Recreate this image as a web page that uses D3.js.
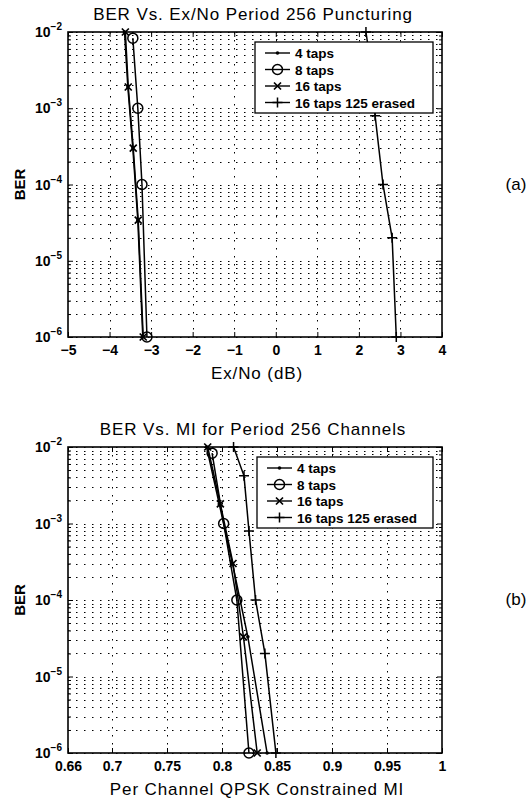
<!DOCTYPE html>
<html>
<head>
<meta charset="utf-8">
<script src="https://cdn.jsdelivr.net/npm/d3@7"></script>
<style>
  body { margin: 0; background: #fff; }
  text { font-family: "Liberation Sans", Arial, sans-serif; fill: #000; }
</style>
</head>
<body>
<script>
// ---- data ----
const seriesNames = ["4 taps", "8 taps", "16 taps", "16 taps 125 erased"];
const berTicks = [1e-6, 1e-5, 1e-4, 1e-3, 1e-2];

// (a) BER vs Ex/No (dB)
const exnoTicks = [-5, -4, -3, -2, -1, 0, 1, 2, 3, 4];
const exno4Taps = [[-3.64, 1e-2], [-3.56, 1.9e-3], [-3.44, 3e-4], [-3.32, 3.4e-5], [-3.2, 1e-6]];
const exno8Taps = [[-3.44, 8.3e-3], [-3.32, 1e-3], [-3.22, 1e-4], [-3.1, 1e-6]];
const exno16Taps = [[-3.62, 1e-2], [-3.55, 1.9e-3], [-3.43, 3e-4], [-3.31, 3.4e-5], [-3.19, 1e-6]];
const exnoErased = [[2.17, 1e-2], [2.27, 4.2e-3], [2.39, 8e-4], [2.58, 1e-4], [2.8, 2e-5], [2.9, 1e-6]];

// (b) BER vs per channel QPSK constrained MI
const miTicks = [0.66, 0.7, 0.75, 0.8, 0.85, 0.9, 0.95, 1];
const mi4Taps = [[0.786, 1e-2], [0.7975, 1.8e-3], [0.8095, 3e-4], [0.8235, 3.3e-5], [0.841, 1e-6]];
const mi8Taps = [[0.791, 8.3e-3], [0.8015, 1e-3], [0.8135, 1e-4], [0.8245, 1e-6]];
const mi16Taps = [[0.787, 1e-2], [0.7985, 1.8e-3], [0.81, 3e-4], [0.8195, 3.3e-5], [0.832, 1e-6]];
const miErased = [[0.8105, 1e-2], [0.82, 4.2e-3], [0.8245, 8e-4], [0.8305, 1e-4], [0.839, 2e-5], [0.849, 1e-6]];

const svg = d3.select("body").append("svg")
  .attr("width", 531)
  .attr("height", 800);

const panels = [
  {
    id: "a", top: 32, bottom: 337, left: 68, right: 442,
    xDomain: [-5, 4], xTicks: exnoTicks, xGrid: exnoTicks.slice(1, -1),
    xFormat: d3.format("d"),
    title: "BER Vs. Ex/No  Period 256 Puncturing", xLabel: "Ex/No (dB)",
    series: [exno4Taps, exno8Taps, exno16Taps, exnoErased],
    legend: { x: 255, y: 42, w: 178, h: 71 }
  },
  {
    id: "b", top: 447, bottom: 753, left: 68, right: 442,
    xDomain: [0.66, 1], xTicks: miTicks, xGrid: miTicks.slice(1, -1),
    xFormat: d => String(d),
    title: "BER Vs. MI  for Period 256 Channels", xLabel: "Per Channel QPSK Constrained MI",
    series: [mi4Taps, mi8Taps, mi16Taps, miErased],
    legend: { x: 257, y: 457, w: 176, h: 71 }
  }
];

// marker shapes, one per series
function drawMarker(g, kind, cx, cy) {
  if (kind === 0) {
    g.append("circle").attr("cx", cx).attr("cy", cy).attr("r", 1.8).attr("fill", "#000");
  } else if (kind === 1) {
    g.append("circle").attr("cx", cx).attr("cy", cy).attr("r", 5)
      .attr("fill", "none").attr("stroke", "#000").attr("stroke-width", 1.5);
  } else if (kind === 2) {
    const s = 3.5;
    g.append("path")
      .attr("d", `M${cx-s},${cy-s}L${cx+s},${cy+s}M${cx-s},${cy+s}L${cx+s},${cy-s}`)
      .attr("stroke", "#000").attr("stroke-width", 1.7);
  } else {
    const s = 5;
    g.append("path")
      .attr("d", `M${cx-s},${cy}L${cx+s},${cy}M${cx},${cy-s}L${cx},${cy+s}`)
      .attr("stroke", "#000").attr("stroke-width", 1.5);
  }
}

panels.forEach(p => {
  const x = d3.scaleLinear().domain(p.xDomain).range([p.left, p.right]);
  const y = d3.scaleLog().domain([1e-6, 1e-2]).range([p.bottom, p.top]);
  const g = svg.append("g");

  // grid: decades and log minors, dotted
  const minors = [];
  for (let e = -6; e < -2; e++) {
    for (let k = 1; k <= 9; k++) minors.push(k * Math.pow(10, e));
  }
  minors.push(1e-2);
  g.selectAll(".hgrid").data(minors).enter().append("line")
    .attr("x1", p.left).attr("x2", p.right)
    .attr("y1", d => Math.round(y(d)) + 0.5).attr("y2", d => Math.round(y(d)) + 0.5)
    .attr("stroke", "#000").attr("stroke-width", 1)
    .attr("stroke-dasharray", "1.5,6.5");
  g.selectAll(".vgrid").data(p.xGrid).enter().append("line")
    .attr("x1", d => Math.round(x(d)) + 0.5).attr("x2", d => Math.round(x(d)) + 0.5)
    .attr("y1", p.top).attr("y2", p.bottom)
    .attr("stroke", "#000").attr("stroke-width", 1)
    .attr("stroke-dasharray", "1.5,6.5");

  // clip for curves
  svg.append("clipPath").attr("id", "clip-" + p.id)
    .append("rect").attr("x", p.left).attr("y", p.top)
    .attr("width", p.right - p.left).attr("height", p.bottom - p.top);

  const plot = g.append("g").attr("clip-path", `url(#clip-${p.id})`);
  const line = d3.line().x(d => x(d[0])).y(d => y(d[1]));
  p.series.forEach((s, i) => {
    plot.append("path").datum(s).attr("d", line)
      .attr("fill", "none").attr("stroke", "#000").attr("stroke-width", 1.5);
  });
  p.series.forEach((s, i) => {
    s.forEach(d => drawMarker(g, i, x(d[0]), y(d[1])));
  });

  // axes: ticks point inward
  g.append("g").attr("transform", `translate(0,${p.bottom})`)
    .call(d3.axisBottom(x).tickValues(p.xTicks).tickFormat(p.xFormat)
      .tickSizeInner(-5).tickSizeOuter(0).tickPadding(8))
    .call(a => a.select(".domain").remove())
    .selectAll("text").attr("font-size", 14).attr("font-weight", "bold")
    .attr("font-family", "Liberation Sans, Arial, sans-serif");
  g.append("g").attr("transform", `translate(0,${p.top})`)
    .call(d3.axisTop(x).tickValues(p.xTicks).tickFormat("").tickSizeInner(-5).tickSizeOuter(0))
    .call(a => a.select(".domain").remove());
  g.append("g").attr("transform", `translate(${p.right},0)`)
    .call(d3.axisRight(y).tickValues(minors).tickFormat("")
      .tickSize(0))
    .call(a => a.select(".domain").remove())
    .selectAll(".tick line").attr("x2", d => berTicks.includes(d) ? -5 : -3);
  const yAxis = g.append("g").attr("transform", `translate(${p.left},0)`)
    .call(d3.axisLeft(y).tickValues(minors).tickFormat("").tickSize(0))
    .call(a => a.select(".domain").remove());
  yAxis.selectAll(".tick line").attr("x2", d => berTicks.includes(d) ? 5 : 3);

  // decade labels as 10 with superscript exponent
  g.selectAll(".ylab").data(berTicks).enter().append("text")
    .attr("x", p.left - 6).attr("y", d => y(d) + 5)
    .attr("text-anchor", "end").attr("font-size", 14).attr("font-weight", "bold")
    .each(function(d) {
      const t = d3.select(this);
      t.append("tspan").text("10");
      t.append("tspan").attr("dy", -7).attr("font-size", 10)
        .text("\u2212" + Math.round(-Math.log10(d)));
    });

  // frame
  g.append("rect").attr("x", p.left).attr("y", p.top)
    .attr("width", p.right - p.left).attr("height", p.bottom - p.top)
    .attr("fill", "none").attr("stroke", "#000").attr("stroke-width", 1.6);

  // legend
  const L = p.legend;
  const lg = g.append("g");
  lg.append("rect").attr("x", L.x).attr("y", L.y).attr("width", L.w).attr("height", L.h)
    .attr("fill", "#fff").attr("stroke", "#000").attr("stroke-width", 1.3);
  seriesNames.forEach((name, i) => {
    const ry = L.y + 11 + i * 16.5;
    lg.append("line").attr("x1", L.x + 10).attr("x2", L.x + 35)
      .attr("y1", ry).attr("y2", ry).attr("stroke", "#000").attr("stroke-width", 1.4);
    drawMarker(lg, i, L.x + 22.5, ry);
    lg.append("text").attr("x", L.x + 40).attr("y", ry + 5)
      .attr("font-size", 13.5).attr("font-weight", "bold").text(name);
  });

  // titles and labels
  g.append("text").attr("x", (p.left + p.right) / 2 - 2).attr("y", p.top - 12)
    .attr("text-anchor", "middle").attr("font-size", 17)
    .attr("letter-spacing", 0.9).text(p.title);
  g.append("text").attr("x", (p.left + p.right) / 2 + 2).attr("y", p.bottom + 42)
    .attr("text-anchor", "middle").attr("font-size", 17)
    .attr("letter-spacing", 0.9).text(p.xLabel);
  g.append("text")
    .attr("transform", `translate(25,${(p.top + p.bottom) / 2}) rotate(-90)`)
    .attr("text-anchor", "middle").attr("font-size", 15).attr("font-weight", "bold")
    .text("BER");
  g.append("text").attr("x", 516).attr("y", (p.top + p.bottom) / 2 + 5)
    .attr("text-anchor", "middle").attr("font-size", 17)
    .attr("font-family", "Liberation Serif, Times New Roman, serif")
    .text("(" + p.id + ")");
});
</script>
</body>
</html>
